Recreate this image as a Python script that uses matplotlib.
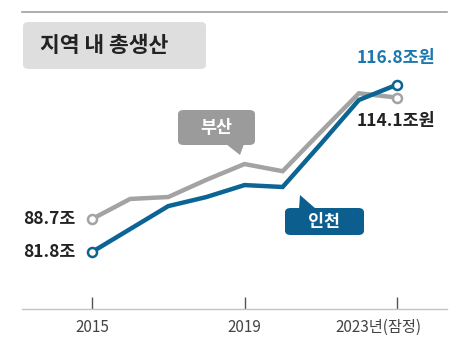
import matplotlib
matplotlib.use("Agg")
import matplotlib.pyplot as plt
from matplotlib.patches import FancyBboxPatch, Polygon
from matplotlib.transforms import ScaledTranslation

plt.rcParams['font.family'] = ['Noto Sans CJK KR', 'DejaVu Sans']

years = [2015, 2016, 2017, 2018, 2019, 2020, 2021, 2022, 2023]
busan = [88.7, 92.9, 93.3, 96.9, 100.2, 98.7, 106.9, 115.0, 114.1]
incheon = [81.8, 86.6, 91.4, 93.3, 95.8, 95.4, 104.4, 113.6, 116.8]
tick_years = [2015, 2019, 2023]
tick_labels = ['2015', '2019', '2023년(잠정)']
title = '지역 내 총생산'

W, H = 470, 358
fig = plt.figure(figsize=(W / 100, H / 100), dpi=100)

def fx(px):
    return px / W

def fy(py):
    return 1 - py / H

ax = fig.add_axes([fx(22), fy(309), fx(447) - fx(22), fy(12) - fy(309)])
ax.set_xlim(2013.164, 2024.311)
ax.set_ylim(69.88, 132.0)

gray = '#a3a3a3'
blue = '#0b6494'

ax.plot(years, busan, color=gray, lw=3.2, solid_joinstyle='miter', zorder=3)
ax.plot(years, incheon, color=blue, lw=3.2, solid_joinstyle='miter', zorder=4)
for ys, c in [(busan, gray), (incheon, blue)]:
    ax.plot([years[0], years[-1]], [ys[0], ys[-1]], 'o', ms=6.5, mfc='white',
            mec=c, mew=1.8, zorder=5)

for s in ['left', 'right']:
    ax.spines[s].set_visible(False)
ax.spines['bottom'].set_color('#c4c4c4')
ax.spines['bottom'].set_linewidth(1.0)
ax.spines['top'].set_color('#a0a0a0')
ax.spines['top'].set_linewidth(1.2)
ax.set_yticks([])
ax.set_xticks(tick_years)
ax.set_xticklabels(tick_labels, fontsize=11, color='#444444')
ax.tick_params(axis='x', direction='in', length=8.5, width=1.0, color='#555555', pad=7)
lbl = ax.get_xticklabels()[-1]
lbl.set_transform(lbl.get_transform() + ScaledTranslation(-19 / 100, 0, fig.dpi_scale_trans))

# value labels
ax.text(2015 - 0.42, busan[0], '88.7조', ha='right', va='center', fontsize=12.5,
        fontweight='bold', color='#222222')
ax.text(2015 - 0.42, incheon[0], '81.8조', ha='right', va='center', fontsize=12.5,
        fontweight='bold', color='#222222')
fig.text(fx(396), fy(58), '116.8조원', ha='center', va='center', fontsize=12.5,
         fontweight='bold', color='#1b78ae')
fig.text(fx(396), fy(121), '114.1조원', ha='center', va='center', fontsize=12.5,
         fontweight='bold', color='#222222')

# title box
fig.patches.append(FancyBboxPatch((fx(23), fy(69)), fx(206) - fx(23), fy(22) - fy(69),
                                  boxstyle='round,pad=0,rounding_size=0.012',
                                  transform=fig.transFigure, fc='#dedede', ec='none'))
fig.text(fx(40), fy(46), title, ha='left', va='center', fontsize=15.5,
         fontweight='bold', color='#222222')

# bubble 부산
fig.patches.append(FancyBboxPatch((fx(178), fy(145)), fx(255) - fx(178), fy(110) - fy(145),
                                  boxstyle='round,pad=0,rounding_size=0.012',
                                  transform=fig.transFigure, fc='#9b9b9b', ec='none'))
fig.patches.append(Polygon([(fx(226), fy(144)), (fx(244), fy(144)), (fx(240), fy(155))],
                           closed=True, transform=fig.transFigure, fc='#9b9b9b', ec='none'))
fig.text(fx(216), fy(128), '부산', ha='center', va='center', fontsize=12.5,
         fontweight='bold', color='white')

# bubble 인천
fig.patches.append(FancyBboxPatch((fx(285), fy(235)), fx(364) - fx(285), fy(208) - fy(235),
                                  boxstyle='round,pad=0,rounding_size=0.012',
                                  transform=fig.transFigure, fc='#0b5e8e', ec='none'))
fig.patches.append(Polygon([(fx(300), fy(195)), (fx(299), fy(209)), (fx(316), fy(209))],
                           closed=True, transform=fig.transFigure, fc='#0b5e8e', ec='none'))
fig.text(fx(324), fy(222), '인천', ha='center', va='center', fontsize=12.5,
         fontweight='bold', color='white')

fig.savefig('out.png', dpi=100)
